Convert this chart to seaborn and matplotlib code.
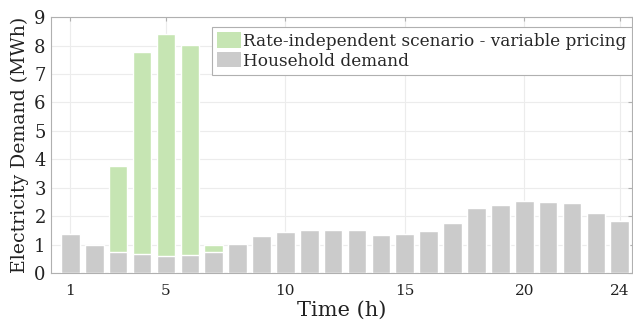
import numpy as np
import pandas as pd
import matplotlib
matplotlib.use("Agg")
import matplotlib.pyplot as plt
import seaborn as sns
from matplotlib.patches import Patch

hours = list(range(1, 25))
household = [1.37, 0.99, 0.75, 0.66, 0.60, 0.62, 0.75, 1.01, 1.32, 1.45, 1.53, 1.53,
             1.52, 1.35, 1.38, 1.48, 1.75, 2.28, 2.40, 2.53, 2.50, 2.46, 2.10, 1.82]
rate_indep = [1.37, 0.99, 3.77, 7.77, 8.40, 8.01, 0.98, 1.01, 1.32, 1.45, 1.53, 1.53,
              1.52, 1.35, 1.38, 1.48, 1.75, 2.28, 2.40, 2.53, 2.50, 2.46, 2.10, 1.82]
xticks = [1, 5, 10, 15, 20, 24]

green = "#c6e5b3"
gray = "#cbcbcb"

df = pd.DataFrame({"hour": hours, "household": household, "rate": rate_indep})

sns.set_style("white")
plt.rcParams['font.family'] = ['DejaVu Serif']

fig = plt.figure(figsize=(6.33, 3.22), dpi=100)
ax = fig.add_axes([0.081, 0.152, 0.917, 0.795])

sns.barplot(data=df, x="hour", y="rate", color=green, native_scale=True,
            width=0.78, saturation=1, ax=ax, zorder=2)
sns.barplot(data=df, x="hour", y="household", color=gray, native_scale=True,
            width=0.78, saturation=1, ax=ax, zorder=3)

ax.set_xlim(0.2, 24.5)
ax.set_ylim(0, 9)
ax.set_xticks(xticks)
ax.set_yticks(range(0, 10))
ax.grid(True, color="#ececec", linewidth=0.8, zorder=0)
ax.set_axisbelow(True)
for s in ax.spines.values():
    s.set_color("#b0b0b0")
    s.set_linewidth(0.8)
ax.tick_params(axis="x", labelsize=11, colors="#222222", length=3, direction="in",
               top=True, pad=8)
ax.tick_params(axis="y", labelsize=13, colors="#222222", length=3, direction="in",
               right=True, pad=4)
ax.tick_params(axis="both", color="#b0b0b0")
ax.set_xlabel("Time (h)", fontsize=15, color="#222222", labelpad=2)
ax.set_ylabel("Electricity Demand (MWh)", fontsize=13.6, color="#222222", labelpad=4)

handles = [Patch(facecolor=green, edgecolor="none"), Patch(facecolor=gray, edgecolor="none")]
leg = ax.legend(handles, ["Rate-independent scenario - variable pricing", "Household demand"],
                loc="upper right", bbox_to_anchor=(1.0, 0.96), borderaxespad=0,
                fontsize=12.2, frameon=True, fancybox=False, framealpha=1,
                edgecolor="#b0b0b0", handlelength=1.4, handleheight=1.0,
                handletextpad=0.15, borderpad=0.3, labelspacing=0.15)
leg.get_frame().set_linewidth(0.8)

fig.savefig("out.png", dpi=100)
